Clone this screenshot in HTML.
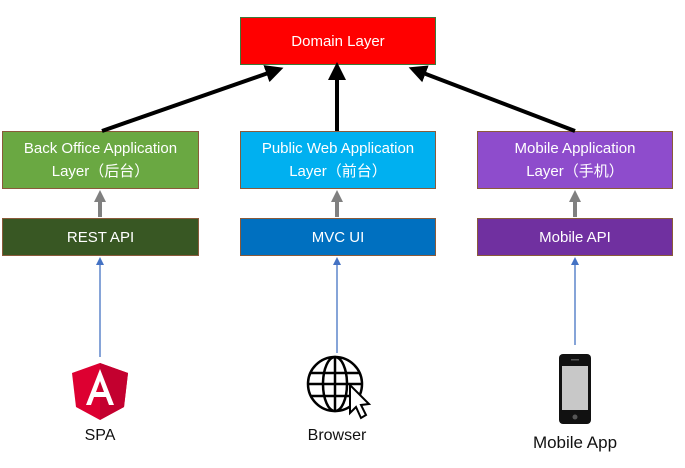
<!DOCTYPE html>
<html><head><meta charset="utf-8"><style>
body{margin:0;width:685px;height:468px;background:#fff;position:relative;overflow:hidden;font-family:"Liberation Sans","Noto Sans CJK SC",sans-serif;}
.b{position:absolute;box-sizing:border-box;border:1px solid #8a5a3a;color:#fff;display:flex;align-items:center;justify-content:center;text-align:center;font-size:15px;line-height:23px;}
.l{position:absolute;font-size:16px;color:#111;text-align:center;}
</style></head><body>
<div class="b" style="left:240px;top:17px;width:196px;height:48px;background:#ff0000;border-color:#3a7a3a">Domain Layer</div>
<div class="b" style="left:2px;top:131px;width:197px;height:58px;background:#6aa842">Back Office Application<br>Layer（后台）</div>
<div class="b" style="left:240px;top:131px;width:196px;height:58px;background:#00b0f0">Public Web Application<br>Layer（前台）</div>
<div class="b" style="left:477px;top:131px;width:196px;height:58px;background:#8e4ccc">Mobile Application<br>Layer（手机）</div>
<div class="b" style="left:2px;top:218px;width:197px;height:38px;background:#385723">REST API</div>
<div class="b" style="left:240px;top:218px;width:196px;height:38px;background:#0070c0">MVC UI</div>
<div class="b" style="left:477px;top:218px;width:196px;height:38px;background:#7030a0">Mobile API</div>
<svg width="685" height="468" style="position:absolute;left:0;top:0">
<defs>
<marker id="k" markerWidth="4.5" markerHeight="4.5" refX="2" refY="2.25" orient="auto"><path d="M0,0L4.5,2.25L0,4.5z" fill="#000"/></marker>
<marker id="g" markerWidth="3" markerHeight="3" refX="1.5" refY="1.5" orient="auto"><path d="M0,0L3,1.5L0,3z" fill="#808080"/></marker>
<marker id="u" markerWidth="8" markerHeight="8" refX="6" refY="4" orient="auto" markerUnits="userSpaceOnUse"><path d="M0,0L8,4L0,8z" fill="#4472c4"/></marker>
</defs>
<g stroke="#000" stroke-width="4" fill="none">
<line x1="102" y1="131" x2="274" y2="71" marker-end="url(#k)"/>
<line x1="337" y1="131" x2="337" y2="72" marker-end="url(#k)"/>
<line x1="575" y1="131" x2="418" y2="71" marker-end="url(#k)"/>
</g>
<g stroke="#808080" stroke-width="4">
<line x1="100" y1="217" x2="100" y2="196" marker-end="url(#g)"/>
<line x1="337" y1="217" x2="337" y2="196" marker-end="url(#g)"/>
<line x1="575" y1="217" x2="575" y2="196" marker-end="url(#g)"/>
</g>
<g stroke="#4472c4" stroke-width="1.3">
<line x1="100" y1="357" x2="100" y2="259" marker-end="url(#u)"/>
<line x1="337" y1="353" x2="337" y2="259" marker-end="url(#u)"/>
<line x1="575" y1="345" x2="575" y2="259" marker-end="url(#u)"/>
</g>
<!-- angular -->
<path d="M100,363 L128,373 L124,407 L100,420 L76,407 L72,373z" fill="#dd0031"/>
<path d="M100,363 L128,373 L124,407 L100,420z" fill="#c3002f"/>
<path d="M100,369 L86,405 L91,405 L94,397 L106,397 L109,405 L114,405z M96,392 L100,381 L104,392z" fill="#fff"/>
<!-- globe -->
<g stroke="#000" stroke-width="2.5" fill="none">
<circle cx="335" cy="384" r="27"/>
<ellipse cx="335" cy="384" rx="12" ry="27"/>
<line x1="335" y1="357" x2="335" y2="411"/>
<line x1="310" y1="373" x2="360" y2="373"/>
<line x1="308" y1="384" x2="362" y2="384"/>
<line x1="310" y1="396" x2="360" y2="396"/>
</g>
<path d="M350,385 L350,413 L356,407 L361,418 L366,415 L361,405 L369,404z" fill="#fff" stroke="#000" stroke-width="2"/>
<!-- phone -->
<rect x="559" y="354" width="32" height="70" rx="4" fill="#111"/>
<rect x="562" y="366" width="26" height="44" fill="#c8c8c8"/>
<circle cx="575" cy="417" r="2.5" fill="#555"/>
<rect x="571" y="359" width="8" height="1.5" fill="#555"/>
</svg>
<div class="l" style="left:60px;top:427px;width:80px">SPA</div>
<div class="l" style="left:287px;top:427px;width:100px">Browser</div>
<div class="l" style="left:515px;top:433px;width:120px;font-size:17px">Mobile App</div>
</body></html>
